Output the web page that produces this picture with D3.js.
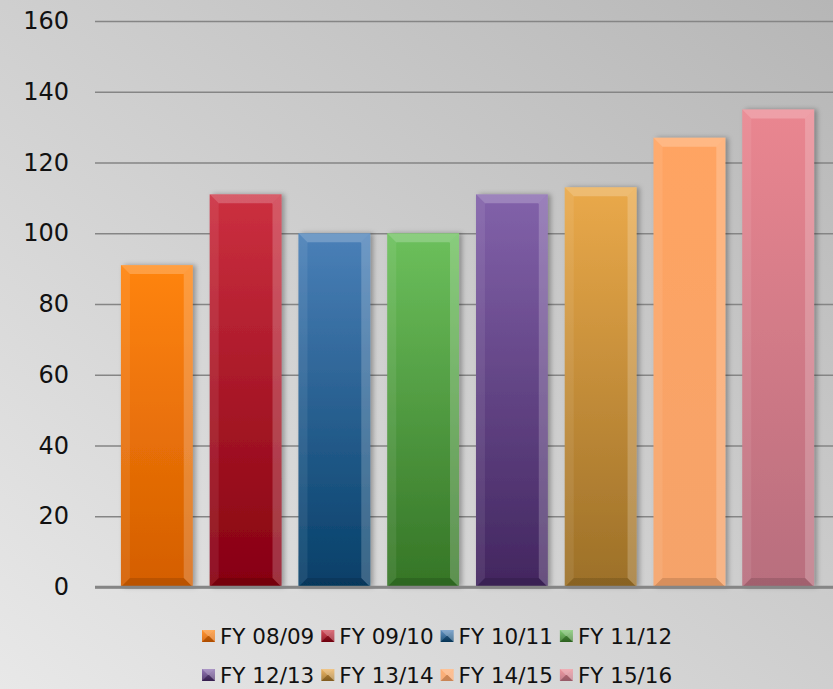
<!DOCTYPE html>
<html>
<head>
<meta charset="utf-8">
<script src="https://cdn.jsdelivr.net/npm/d3@7"></script>
<style>
  body { margin: 0; padding: 0; }
  svg { display: block; font-family: "DejaVu Sans", Verdana, sans-serif; }
</style>
</head>
<body>
<script>
// data
var categories = ['FY 08/09', 'FY 09/10', 'FY 10/11', 'FY 11/12', 'FY 12/13', 'FY 13/14', 'FY 14/15', 'FY 15/16'];
var values = [91, 111, 100, 100, 111, 113, 127, 135];
var yTicks = [0, 20, 40, 60, 80, 100, 120, 140, 160];

// bar colours, top and bottom of each gradient
var colorTop = ['#ff8410', '#cc3040', '#4a80b8', '#6cc05c', '#8262aa', '#eaa94a', '#ffa462', '#ea8690'];
var colorBottom = ['#d45e00', '#860010', '#063f68', '#357526', '#42265f', '#9c7028', '#f5a36a', '#b86e7e'];

var width = 833, height = 689,
    plotLeft = 95, plotRight = 840,
    plotTop = 21, plotBottom = 587;

var svg = d3.select('body').append('svg')
    .attr('width', width)
    .attr('height', height);

var defs = svg.append('defs');

// background gradient, light bottom-left to darker top-right
var bg = defs.append('linearGradient')
    .attr('id', 'bg')
    .attr('x1', '0%').attr('y1', '100%')
    .attr('x2', '100%').attr('y2', '0%');
bg.append('stop').attr('offset', '0%').attr('stop-color', '#e8e8e8');
bg.append('stop').attr('offset', '100%').attr('stop-color', '#b6b6b6');

svg.append('rect')
    .attr('width', width)
    .attr('height', height)
    .attr('fill', 'url(#bg)');

// bar gradients
categories.forEach(function(c, i) {
  var g = defs.append('linearGradient')
      .attr('id', 'bar' + i)
      .attr('x1', 0).attr('y1', 0).attr('x2', 0).attr('y2', 1);
  g.append('stop').attr('offset', '0%').attr('stop-color', colorTop[i]);
  g.append('stop').attr('offset', '100%').attr('stop-color', colorBottom[i]);
});

var shadow = defs.append('filter').attr('id', 'shadow')
    .attr('x', '-20%').attr('y', '-10%').attr('width', '140%').attr('height', '120%');
shadow.append('feDropShadow')
    .attr('dx', 3).attr('dy', 0).attr('stdDeviation', 2.5)
    .attr('flood-color', '#000').attr('flood-opacity', 0.3);

// scales
var x = d3.scaleBand()
    .domain(categories)
    .range([plotLeft, plotRight])
    .paddingInner(17 / 89)
    .paddingOuter(26 / 89);

var y = d3.scaleLinear()
    .domain([0, 160])
    .range([plotBottom, plotTop]);

// y axis with gridlines
var yAxis = d3.axisLeft(y)
    .tickValues(yTicks)
    .tickSize(-(width - plotLeft))
    .tickPadding(26);

var axisG = svg.append('g')
    .attr('transform', 'translate(' + plotLeft + ',0)')
    .call(yAxis);

axisG.select('.domain').remove();
axisG.selectAll('.tick line')
    .attr('stroke', '#858585')
    .attr('stroke-width', function(d) { return d === 0 ? 2.5 : 1.5; });
axisG.selectAll('.tick text')
    .attr('fill', '#111')
    .attr('font-size', '24px')
    .attr('font-family', '"DejaVu Sans", Verdana, sans-serif');

// bars
var data = categories.map(function(c, i) { return {cat: c, val: values[i], i: i}; });
var bevel = 9;

var bars = svg.append('g').selectAll('g')
    .data(data)
  .enter().append('g');

bars.append('rect')
    .attr('x', function(d) { return x(d.cat); })
    .attr('y', function(d) { return y(d.val); })
    .attr('width', x.bandwidth())
    .attr('height', function(d) { return y(0) - y(d.val); })
    .attr('fill', function(d) { return 'url(#bar' + d.i + ')'; })
    .attr('filter', 'url(#shadow)');

function poly(pts) {
  return pts.map(function(p) { return p.join(','); }).join(' ');
}

// bevel facets: top, left, right, bottom
var facets = [
  {fill: '#fff', op: 0.22, pts: function(x0, x1, y0, y1, b) { return [[x0, y0], [x1, y0], [x1 - b, y0 + b], [x0 + b, y0 + b]]; }},
  {fill: '#fff', op: 0.08, pts: function(x0, x1, y0, y1, b) { return [[x0, y0], [x0 + b, y0 + b], [x0 + b, y1 - b], [x0, y1]]; }},
  {fill: '#fff', op: 0.2, pts: function(x0, x1, y0, y1, b) { return [[x1, y0], [x1 - b, y0 + b], [x1 - b, y1 - b], [x1, y1]]; }},
  {fill: '#000', op: 0.12, pts: function(x0, x1, y0, y1, b) { return [[x0, y1], [x0 + b, y1 - b], [x1 - b, y1 - b], [x1, y1]]; }}
];

facets.forEach(function(f) {
  bars.append('polygon')
      .attr('points', function(d) {
        var x0 = x(d.cat), x1 = x0 + x.bandwidth(), y0 = y(d.val), y1 = y(0);
        return poly(f.pts(x0, x1, y0, y1, bevel));
      })
      .attr('fill', f.fill)
      .attr('fill-opacity', f.op);
});

// redraw the zero line over the bars
svg.append('line')
    .attr('x1', plotLeft).attr('x2', width)
    .attr('y1', y(0)).attr('y2', y(0))
    .attr('stroke', '#858585')
    .attr('stroke-width', 2.5);

// legend, two rows of four
var rows = [categories.slice(0, 4), categories.slice(4)];
var rowY = [636, 675];
var legend = svg.append('g');

rows.forEach(function(row, r) {
  var cx = 202;
  row.forEach(function(c) {
    var i = categories.indexOf(c);
    var item = legend.append('g').attr('transform', 'translate(' + cx + ',' + rowY[r] + ')');
    var m = 12;
    item.append('rect')
        .attr('x', 0).attr('y', -m / 2)
        .attr('width', m + 1).attr('height', m)
        .attr('fill', 'url(#bar' + i + ')');
    facets.forEach(function(f) {
      item.append('polygon')
          .attr('points', poly(f.pts(0, m + 1, -m / 2, m / 2, m / 2)))
          .attr('fill', f.fill)
          .attr('fill-opacity', f.op * 1.5);
    });
    var t = item.append('text')
        .attr('x', 18)
        .attr('y', 8)
        .attr('font-size', '21.5px')
        .attr('fill', '#111')
        .text(c);
    cx += 18 + t.node().getComputedTextLength() + 7;
  });
});
</script>
</body>
</html>
